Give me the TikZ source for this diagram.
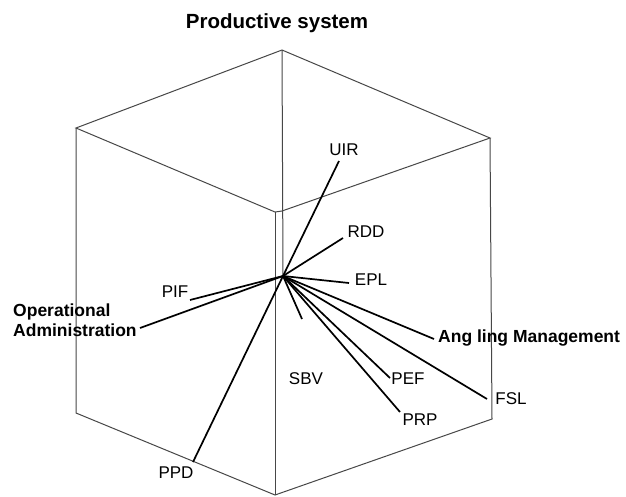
\documentclass[tikz,border=0pt]{standalone}
\usepackage{fontspec}
\setmainfont{Liberation Sans}
\begin{document}
\begin{tikzpicture}[x=1pt,y=-1pt,
  edge/.style={draw=black!72,line width=1pt},
  spoke/.style={draw=black,line width=1.7pt},
  lbl/.style={inner sep=0pt,font=\fontsize{17}{20}\selectfont},
  blbl/.style={inner sep=0pt,font=\fontsize{17.5}{20}\selectfont\bfseries}]
\useasboundingbox[fill=white] (0,0) rectangle (626,496);
% cube vertices
\coordinate (T) at (282,50);
\coordinate (LT) at (76,128);
\coordinate (RT) at (490,138);
\coordinate (IL) at (275,212);
\coordinate (IR) at (282,211);
\coordinate (LB) at (76,413);
\coordinate (B) at (275,495);
\coordinate (RB) at (492,419);
\coordinate (H) at (283,276);
% cube edges
\draw[edge] (T) -- (LT) -- (IL) -- (IR) -- (RT) -- cycle;
\draw[edge] (LT) -- (LB) -- (B) -- (RB) -- (RT);
\draw[edge] (IL) -- (B);
\draw[edge] (T) -- (H);
% labels
\node[blbl,font=\fontsize{20.5}{24}\selectfont\bfseries] (title) at (277,23) {Productive system};
\node[lbl] (uir) at (344,150) {UIR};
\node[lbl] (rdd) at (366,232) {RDD};
\node[lbl] (epl) at (371,280) {EPL};
\node[lbl] (pif) at (175,292) {PIF};
\node[lbl] (ppd) at (176,473) {PPD};
\node[lbl] (sbv) at (306,379) {SBV};
\node[lbl] (pef) at (408,379) {PEF};
\node[lbl] (prp) at (420,420) {PRP};
\node[lbl] (fsl) at (511,399) {FSL};
\node[blbl,anchor=west] (ang) at (438,338) {Ang ling Management};
\node[blbl,anchor=west,align=left] (oa) at (13,320) {Operational\\Administration};
% spoke ends
\coordinate (eUIR) at (339,161);
\coordinate (eRDD) at (343,238);
\coordinate (eEPL) at (349,283);
\coordinate (eSBV) at (302,319);
\coordinate (ePEF) at (390,378);
\coordinate (ePRP) at (400,412);
\coordinate (eFSL) at (487,399);
\coordinate (eANG) at (434,339);
\coordinate (ePIF) at (190,300);
\coordinate (eOA) at (140,328);
\coordinate (ePPD) at (193,462);
\foreach \e in {eUIR,eRDD,eEPL,eSBV,ePEF,ePRP,eFSL,eANG,ePIF,eOA,ePPD}
  \draw[spoke] (H) -- (\e);
\end{tikzpicture}
\end{document}
